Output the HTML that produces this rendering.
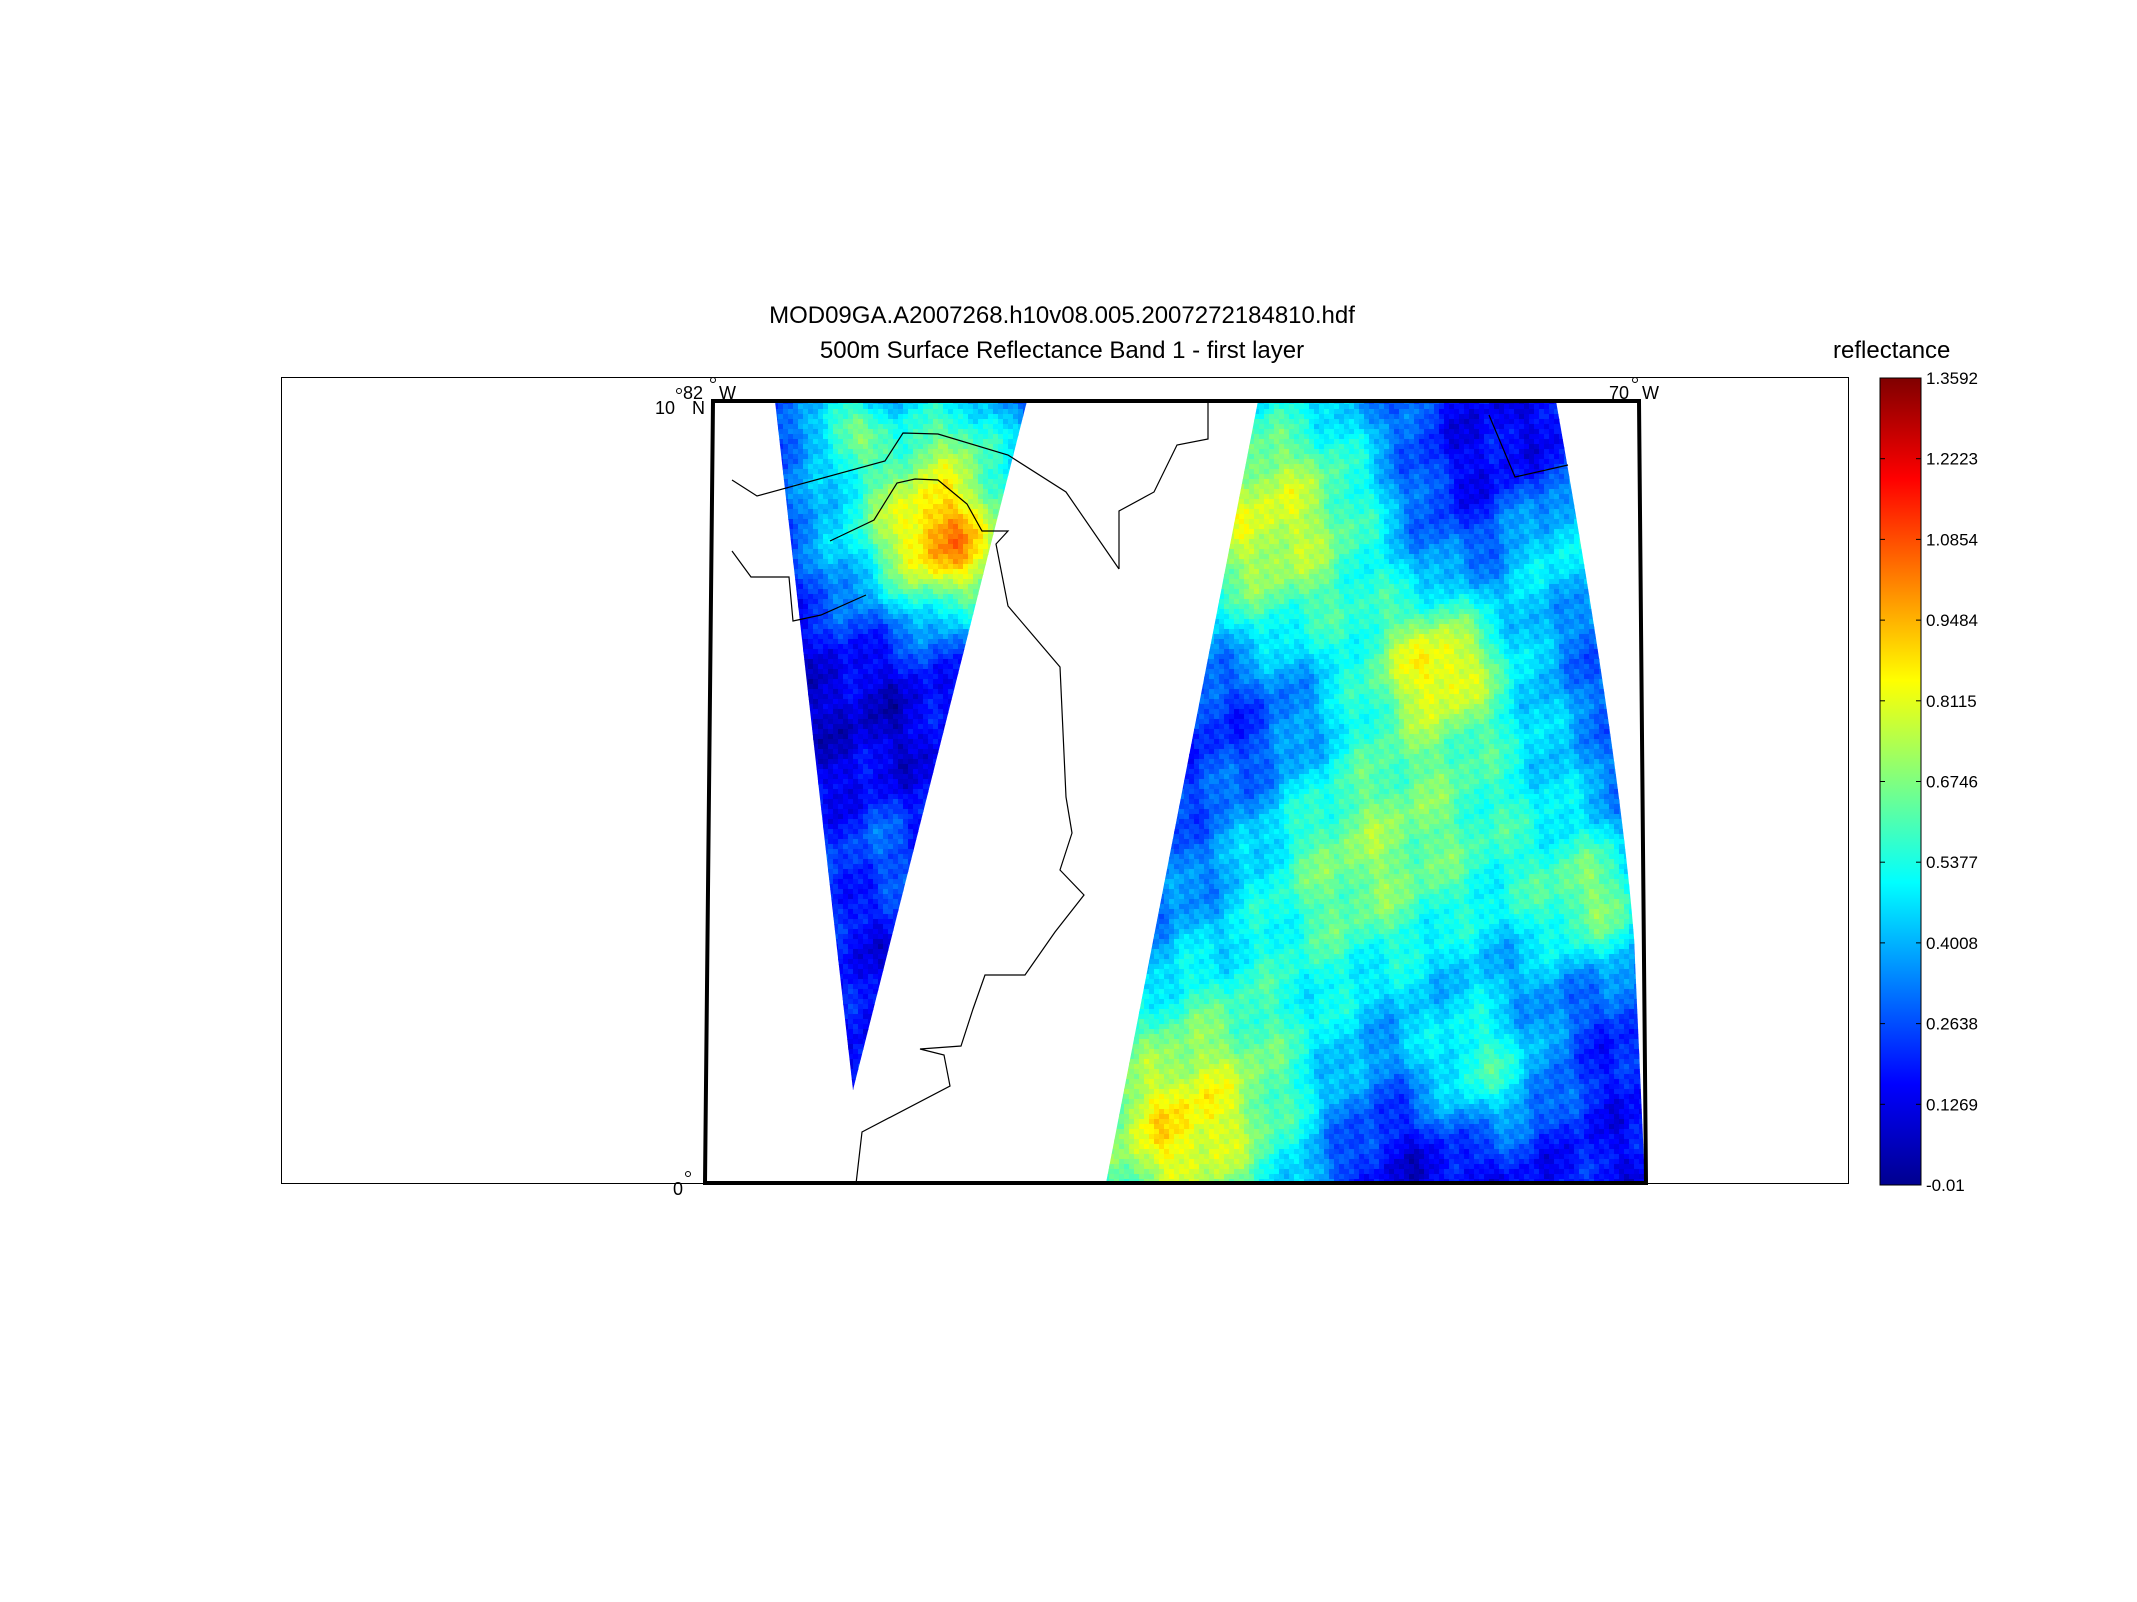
<!DOCTYPE html>
<html><head><meta charset="utf-8"><style>
html,body{margin:0;padding:0;background:#fff;}
body{width:2137px;height:1602px;position:relative;overflow:hidden;font-family:"Liberation Sans",sans-serif;}
.t{position:absolute;white-space:nowrap;color:#000;}
</style></head><body>
<div class="t" style="left:0;width:2124px;text-align:center;top:302px;font-size:24px;">MOD09GA.A2007268.h10v08.005.2007272184810.hdf</div>
<div class="t" style="left:0;width:2124px;text-align:center;top:337px;font-size:24px;">500m Surface Reflectance Band 1 - first layer</div>
<div class="t" style="left:1833px;top:337px;font-size:24px;">reflectance</div>
<svg id="map" width="2137" height="1602" style="position:absolute;left:0;top:0">
<defs>
<clipPath id="clipL"><polygon points="775,401 1027,401 853,1090"/></clipPath>
<clipPath id="clipR"><path d="M1258,401 L1556,401 Q1620,760 1634,938 L1645,1183 L1106,1183 Z"/></clipPath>
<linearGradient id="jet" x1="0" y1="1" x2="0" y2="0">
<stop offset="0" stop-color="#00008f"/><stop offset="0.125" stop-color="#0000ff"/><stop offset="0.375" stop-color="#00ffff"/><stop offset="0.625" stop-color="#ffff00"/><stop offset="0.875" stop-color="#ff0000"/><stop offset="1" stop-color="#800000"/>
</linearGradient>
</defs>
<rect x="281.5" y="377.5" width="1567" height="806" fill="none" stroke="#000" stroke-width="1"/>
<g id="cells"></g>
<g fill="none" stroke="#000" stroke-width="1.2">
<polyline points="732,480 757,496 885,461 903,433 938,434 1008,455 1066,492 1119,569"/>
<polyline points="1208,401 1208,439 1177,445 1154,492 1119,511 1119,569"/>
<polyline points="732,551 751,577 789,577 793,621 821,615 866,595"/>
<polyline points="830,541 874,520 897,483 915,479 938,480 967,504 982,531 1008,531 996,544 1008,606 1060,667 1066,797 1072,833 1060,870 1084,895 1055,932 1025,975 985,975 973,1009 961,1046 920,1049 944,1055 950,1086 862,1132 856,1184"/>
<polyline points="1489,415 1515,477 1568,465"/>
</g>
<polygon points="713,401 1639,401 1646,1183 705,1183" fill="none" stroke="#000" stroke-width="4"/>
<circle cx="713" cy="380" r="2.5" fill="none" stroke="#000"/>
<circle cx="1635" cy="380" r="2.5" fill="none" stroke="#000"/>
<circle cx="679" cy="391" r="2.5" fill="none" stroke="#000"/>
<circle cx="688" cy="1174" r="2.5" fill="none" stroke="#000"/>
<text x="683" y="399" font-size="18" font-family="Liberation Sans">82</text>
<text x="719" y="399" font-size="18" font-family="Liberation Sans">W</text>
<text x="655" y="414" font-size="18" font-family="Liberation Sans">10</text>
<text x="692" y="414" font-size="18" font-family="Liberation Sans">N</text>
<text x="1609" y="399" font-size="18" font-family="Liberation Sans">70</text>
<text x="1642" y="399" font-size="18" font-family="Liberation Sans">W</text>
<text x="673" y="1195" font-size="18" font-family="Liberation Sans">0</text>
<rect x="1880" y="378" width="41" height="807" fill="url(#jet)" stroke="#000" stroke-width="1"/>
<g id="cbticks" font-family="Liberation Sans" font-size="17"></g>
</svg>
<script>
const cbLabels=["-0.01","0.1269","0.2638","0.4008","0.5377","0.6746","0.8115","0.9484","1.0854","1.2223","1.3592"];
const vmin=-0.01, vmax=1.3592;
// reflectance blobs: [x, y, radius, reflectance added]
const blobsL=[[950,545,45,0.45],[930,520,90,0.35],[840,418,25,0.3],[880,480,60,0.15],[870,690,60,-0.1],[880,850,40,0.12],[960,430,40,0.2]];
const blobsR=[[1250,520,90,0.45],[1320,470,110,0.2],[1440,660,45,0.4],[1420,800,140,0.45],[1340,880,70,0.15],[1560,540,50,0.3],[1200,1100,110,0.55],[1160,1150,60,0.2],[1480,1070,50,0.35],[1600,900,50,0.35],[1460,480,70,-0.15],[1260,720,60,-0.15],[1390,1150,70,-0.15]];
const baseRefl=0.16;
const cbTop=378, cbBot=1185;
const NS='http://www.w3.org/2000/svg';
const g=document.getElementById('cbticks');
cbLabels.forEach((l,i)=>{
  const y=cbBot-(parseFloat(l)-vmin)/(vmax-vmin)*(cbBot-cbTop);
  const t=document.createElementNS(NS,'text');
  
  
  t.setAttribute('x',1926);t.setAttribute('y',y+6);t.textContent=l;g.appendChild(t);
  [[1880,1885],[1916,1921]].forEach(([a,b])=>{const ln=document.createElementNS(NS,'line');
    ln.setAttribute('x1',a);ln.setAttribute('x2',b);ln.setAttribute('y1',y);ln.setAttribute('y2',y);ln.setAttribute('stroke','#000');g.appendChild(ln);});
});
function jet(v){v=Math.max(0,Math.min(1,v));
  const r=Math.max(0,Math.min(1,1.5-Math.abs(4*v-3))),gg=Math.max(0,Math.min(1,1.5-Math.abs(4*v-2))),b=Math.max(0,Math.min(1,1.5-Math.abs(4*v-1)));
  return 'rgb('+Math.round(r*255)+','+Math.round(gg*255)+','+Math.round(b*255)+')';}
function tex(x,y){return 0.5*Math.sin(x*0.07+y*0.03)*Math.sin(y*0.05-x*0.02)+0.3*Math.sin(x*0.19+y*0.13+1.3)*Math.cos(y*0.17-x*0.05)+0.2*Math.sin(x*0.41-y*0.37);}
function field(blobs){return (x,y)=>{let r=baseRefl+0.13*tex(x,y);
  blobs.forEach(([bx,by,s,a])=>{const d2=(x-bx)*(x-bx)+(y-by)*(y-by);r+=a*Math.exp(-d2/(2*s*s));});
  return (r-vmin)/(vmax-vmin);};}
const cells=document.getElementById('cells');
const S=5;
function fill(clip,x0,x1,y0,y1,f){const grp=document.createElementNS(NS,'g');grp.setAttribute('clip-path','url(#'+clip+')');
  let h='';for(let y=y0;y<y1;y+=S)for(let x=x0;x<x1;x+=S){h+='<rect x="'+x+'" y="'+y+'" width="'+(S+0.5)+'" height="'+(S+0.5)+'" fill="'+jet(f(x,y))+'"/>';}
  grp.innerHTML=h;cells.appendChild(grp);}
fill('clipL',773,1030,399,1092,field(blobsL));
fill('clipR',1104,1648,399,1186,field(blobsR));
</script>
</body></html>
